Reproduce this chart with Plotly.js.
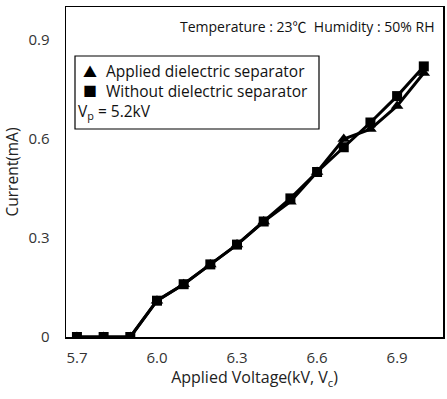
<!DOCTYPE html>
<html><head><meta charset="utf-8">
<script src="https://cdn.plot.ly/plotly-3.0.1.min.js"></script>
<style>html,body{margin:0;padding:0;background:#fff;}#chart{width:447px;height:399px;}</style>
</head><body><div id="chart"></div>
<script>
const voltage = [5.7, 5.8, 5.9, 6.0, 6.1, 6.2, 6.3, 6.4, 6.5, 6.6, 6.7, 6.8, 6.9, 7.0];
const appliedSeparator = [0, 0, 0, 0.11, 0.16, 0.22, 0.28, 0.35, 0.41, 0.50, 0.60, 0.63, 0.70, 0.80];
const withoutSeparator = [0, 0, 0, 0.11, 0.16, 0.22, 0.28, 0.35, 0.42, 0.50, 0.575, 0.65, 0.73, 0.82];
const xTicks = [5.7, 6.0, 6.3, 6.6, 6.9];
const xTickLabels = ['5.7', '6.0', '6.3', '6.6', '6.9'];
const yTicks = [0, 0.3, 0.6, 0.9];
const yTickLabels = ['0', '0.3', '0.6', '0.9'];

const FONT = '"Open Sans", "Noto Sans CJK KR", sans-serif';

const traces = [
  {x: voltage, y: appliedSeparator, mode: 'lines+markers', name: 'Applied dielectric separator',
   line: {color: '#000', width: 3}, marker: {symbol: 'triangle-up', size: 11, color: '#000'}, showlegend: false},
  {x: voltage, y: withoutSeparator, mode: 'lines+markers', name: 'Without dielectric separator',
   line: {color: '#000', width: 3}, marker: {symbol: 'square', size: 10, color: '#000'}, showlegend: false}
];

const px = v => v / 377;
const py = v => (337 - v) / 330;

const layout = {
  width: 447, height: 399,
  margin: {l: 66, r: 4, t: 7, b: 62},
  paper_bgcolor: '#fff', plot_bgcolor: '#fff',
  font: {family: FONT, color: '#000', size: 14},
  xaxis: {range: [5.659, 7.072], tickvals: xTicks, ticktext: xTickLabels, showgrid: false, zeroline: false,
    showline: true, mirror: true, linecolor: '#000', linewidth: 1.5, ticks: '', ticklen: 0,
    ticklabelstandoff: 6,
    tickfont: {size: 15, color: '#333'},
    title: {text: 'Applied Voltage(kV, V<sub>c</sub>)', font: {size: 16, color: '#222'}, standoff: 6}},
  yaxis: {range: [0, 1.0], tickvals: yTicks, ticktext: yTickLabels, showgrid: false, zeroline: false,
    showline: true, mirror: true, linecolor: '#000', linewidth: 1.5, ticks: '', ticklen: 0,
    ticklabelstandoff: 12,
    tickfont: {size: 15, color: '#333'},
    title: {text: 'Current(mA)', font: {size: 15.5, color: '#222'}, standoff: 6}},
  shapes: [
    {type: 'rect', xref: 'paper', yref: 'paper', x0: px(9), x1: px(253), y0: py(129), y1: py(56),
     line: {color: '#000', width: 1.2}, fillcolor: 'rgba(0,0,0,0)'}
  ],
  annotations: [
    {xref: 'paper', yref: 'paper', x: px(371), y: py(26), xanchor: 'right', yanchor: 'middle',
     text: 'Temperature : 23℃  Humidity : 50% RH', showarrow: false, font: {size: 14, color: '#111'}},
    {xref: 'paper', yref: 'paper', x: px(24), y: py(71), xanchor: 'center', yanchor: 'middle',
     text: '▲', showarrow: false, font: {size: 14, color: '#000'}},
    {xref: 'paper', yref: 'paper', x: px(24), y: py(91), xanchor: 'center', yanchor: 'middle',
     text: '■', showarrow: false, font: {size: 14, color: '#000'}},
    {xref: 'paper', yref: 'paper', x: px(38), y: py(71), xanchor: 'left', yanchor: 'middle',
     text: 'Applied dielectric separator', showarrow: false, font: {size: 15.5, color: '#111'}},
    {xref: 'paper', yref: 'paper', x: px(38), y: py(91), xanchor: 'left', yanchor: 'middle',
     text: 'Without dielectric separator', showarrow: false, font: {size: 15.5, color: '#111'}},
    {xref: 'paper', yref: 'paper', x: px(10), y: py(111), xanchor: 'left', yanchor: 'middle',
     text: 'V<sub>p</sub> = 5.2kV', showarrow: false, font: {size: 15.5, color: '#111'}}
  ]
};

Plotly.newPlot('chart', traces, layout, {displayModeBar: false, staticPlot: true});
</script></body></html>
